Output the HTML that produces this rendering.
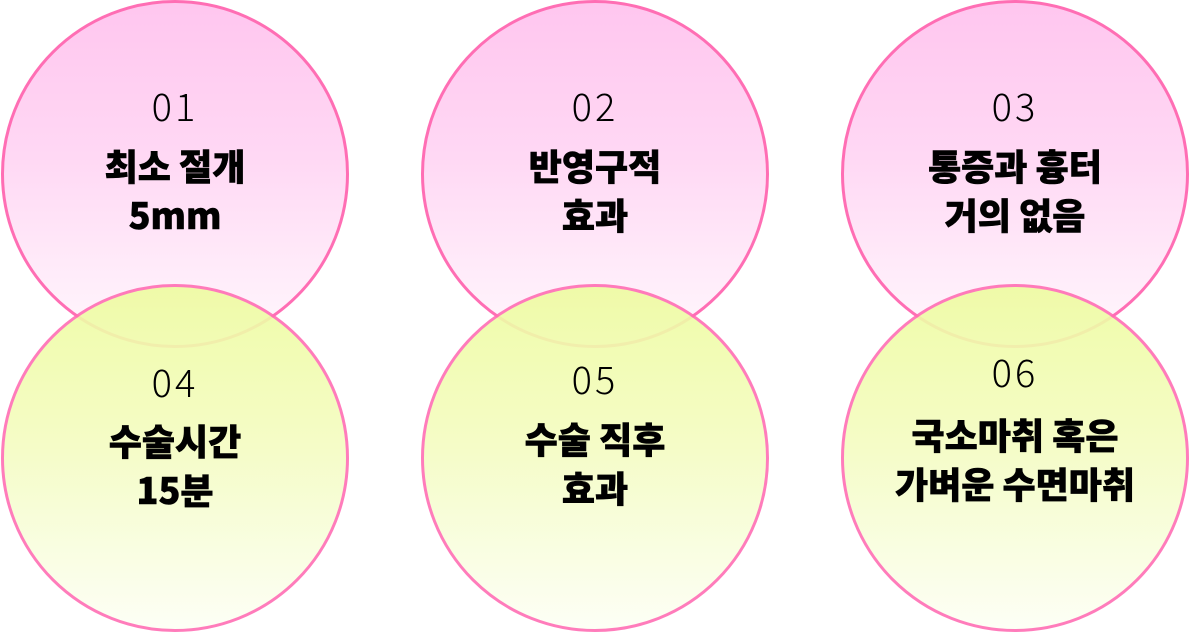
<!DOCTYPE html>
<html><head><meta charset="utf-8"><style>
body{margin:0;width:1190px;height:633px;background:#fff;overflow:hidden;position:relative;font-family:"Liberation Sans","Noto Sans CJK KR",sans-serif}
.c{position:absolute;width:342px;height:342px;border-radius:50%;border:3px solid #ff6eb4;box-sizing:content-box}
.t{background:linear-gradient(#ffc6ef 0%,#ffd8f4 45%,#fff8fd 100%)}
.b{background:linear-gradient(#eefca0 0%,#f4fcc0 45%,#fdfff5 100%);opacity:.9}
.x{position:absolute;width:348px;text-align:center;color:#000}
.n{font-size:38px;font-weight:300;letter-spacing:3px;font-family:"Noto Sans CJK KR","Liberation Sans",sans-serif}
.k{font-size:36px;font-weight:900;line-height:49px;font-family:"Noto Sans CJK KR",sans-serif;-webkit-text-stroke:0.6px #000}
</style></head><body>
<div class="c t" style="left:1px;top:0px"></div>
<div class="c t" style="left:421px;top:0px"></div>
<div class="c t" style="left:841px;top:0px"></div>
<div class="c b" style="left:1px;top:284px"></div>
<div class="c b" style="left:421px;top:284px"></div>
<div class="c b" style="left:841px;top:284px"></div>

<div class="x n" style="left:1px;top:77px">01</div>
<div class="x k" style="left:1px;top:141px">최소 절개<br>5mm</div>
<div class="x n" style="left:421px;top:77px">02</div>
<div class="x k" style="left:421px;top:141px">반영구적<br>효과</div>
<div class="x n" style="left:841px;top:77px">03</div>
<div class="x k" style="left:841px;top:141px">통증과 흉터<br>거의 없음</div>

<div class="x n" style="left:1px;top:353px">04</div>
<div class="x k" style="left:1px;top:416px">수술시간<br>15분</div>
<div class="x n" style="left:421px;top:350px">05</div>
<div class="x k" style="left:421px;top:414px">수술 직후<br>효과</div>
<div class="x n" style="left:841px;top:343px">06</div>
<div class="x k" style="left:841px;top:410px">국소마취 혹은<br>가벼운 수면마취</div>
</body></html>
